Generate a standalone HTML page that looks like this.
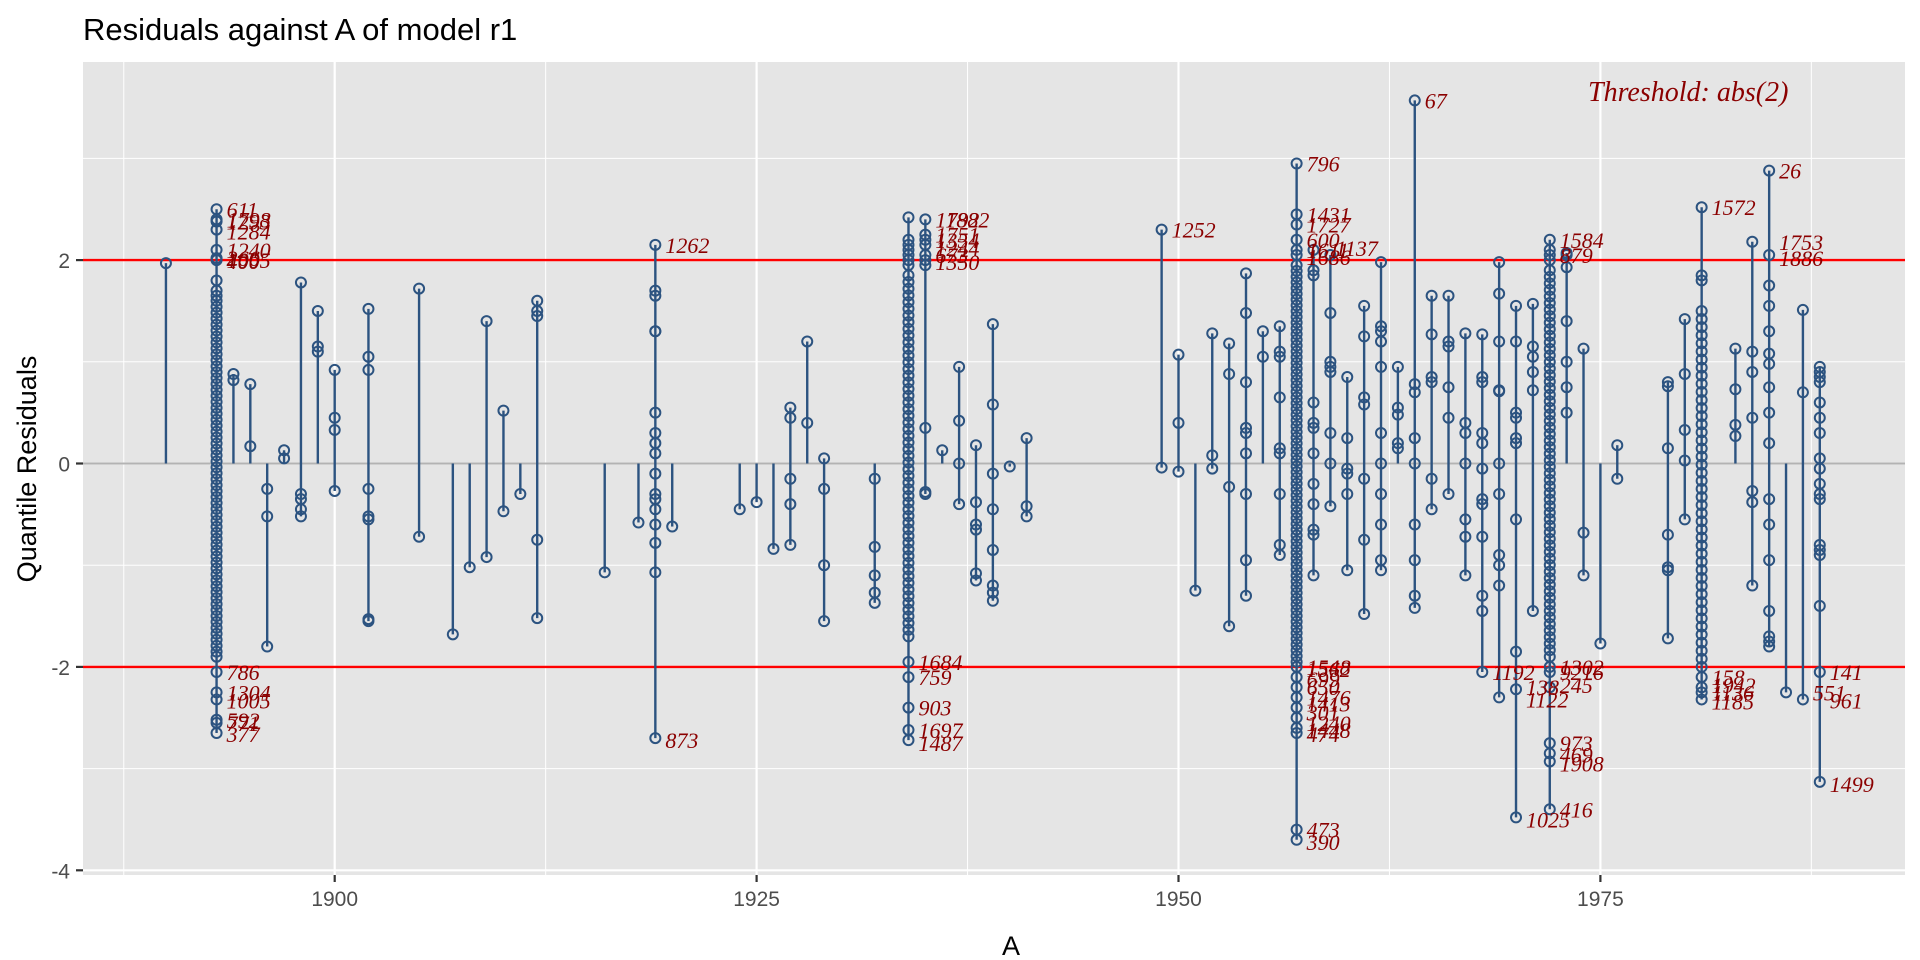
<!DOCTYPE html>
<html><head><meta charset="utf-8">
<style>
html,body{margin:0;padding:0;background:#fff;}
svg{display:block;}
text{font-family:"Liberation Sans",sans-serif;}
.lab{font-family:"Liberation Serif",serif;font-style:italic;fill:#8b0000;font-size:22px;}
</style></head>
<body>
<svg id="s" width="1920" height="960" xmlns="http://www.w3.org/2000/svg">
<rect x="0" y="0" width="1920" height="960" fill="#fff"/>
<rect x="83" y="62" width="1822" height="813" fill="#e5e5e5"/>
<g id="grid"></g>
<line x1="83" x2="1905" y1="463.5" y2="463.5" stroke="#b3b3b3" stroke-width="2"/>
<line x1="83" x2="1905" y1="260.1" y2="260.1" stroke="#ff0000" stroke-width="2.4"/>
<line x1="83" x2="1905" y1="666.9" y2="666.9" stroke="#ff0000" stroke-width="2.4"/>
<g id="pts"></g>
<g id="labs"></g>
<text x="1588" y="101" class="lab" style="font-size:28px">Threshold: abs(2)</text>
<text x="83" y="40" font-size="31" fill="#000">Residuals against A of model r1</text>
<g id="ax" font-size="21" fill="#4d4d4d"></g>
<text x="1011" y="955" text-anchor="middle" font-size="27" fill="#000">A</text>
<text transform="translate(36,469) rotate(-90)" text-anchor="middle" font-size="27" fill="#000">Quantile Residuals</text>
</svg>
<script>
const NS="http://www.w3.org/2000/svg";
const R=r=>Math.round(1893+(r-1892.4)*0.9705);
const X=y=>334.7+(y-1900)*16.876, Y=v=>463.5-v*101.7;
function el(p,t,a,txt){const e=document.createElementNS(NS,t);for(const k in a)e.setAttribute(k,a[k]);if(txt!==undefined)e.textContent=txt;document.getElementById(p).appendChild(e);return e;}
for(const yr of [1887.5,1912.5,1937.5,1962.5,1987.5]) el("grid","line",{x1:X(yr),x2:X(yr),y1:62,y2:875,stroke:"#fff","stroke-width":1});
for(const v of [-3,-1,1,3]) el("grid","line",{x1:83,x2:1905,y1:Y(v),y2:Y(v),stroke:"#fff","stroke-width":1});
for(const yr of [1900,1925,1950,1975]){el("grid","line",{x1:X(yr),x2:X(yr),y1:62,y2:875,stroke:"#fff","stroke-width":2.2});
 el("ax","line",{x1:X(yr),x2:X(yr),y1:875,y2:882,stroke:"#333","stroke-width":2.2});
 el("ax","text",{x:X(yr),y:906,"text-anchor":"middle"},yr);}
for(const v of [-4,-2,0,2]){el("grid","line",{x1:83,x2:1905,y1:Y(v),y2:Y(v),stroke:"#fff","stroke-width":2.2});
 el("ax","line",{x1:76,x2:83,y1:Y(v),y2:Y(v),stroke:"#333","stroke-width":2.2});
 el("ax","text",{x:70,y:Y(v)+8,"text-anchor":"end"},v);}
function dense(a,b,n){const r=[];for(let i=0;i<n;i++)r.push(a+(b-a)*i/(n-1));return r;}
const C=[
[1889.3,[1.97]],
[1892.4,[2.5,2.4,2.38,2.3,2.1,2.02,2.0,1.8,1.7,1.65,-1.9,-2.05,-2.25,-2.32,-2.52,-2.55,-2.65].concat(dense(-1.85,1.6,60))],
[1893.6,[0.88,0.82]],[1894.6,[0.78,0.17]],[1895.6,[-0.25,-0.52,-1.8]],[1896.6,[0.13,0.05]],
[1897.6,[1.78,-0.3,-0.35,-0.45,-0.52]],[1898.7,[1.5,1.15,1.1]],[1899.7,[0.92,0.45,0.33,-0.27]],
[1901.7,[1.52,1.05,0.92,-0.25,-0.52,-0.55,-1.53,-1.55]],[1904.9,[1.72,-0.72]],[1906.9,[-1.68]],
[1907.9,[-1.02]],[1909,[1.4,-0.92]],[1909.9,[0.52,-0.47]],[1911,[-0.3]],[1912,[1.6,1.5,1.45,-0.75,-1.52]],
[1916.1,[-1.07]],[1918.1,[-0.58]],
[1919.2,[2.15,1.7,1.65,1.3,1.3,0.5,0.3,0.2,0.1,-0.1,-0.3,-0.35,-0.45,-0.6,-0.78,-1.07,-2.7]],
[1920.2,[-0.62]],[1924.3,[-0.45]],[1925.4,[-0.38]],[1926.4,[-0.84]],[1927.5,[0.55,0.45,-0.15,-0.4,-0.8]],
[1928.4,[1.2,0.4]],[1929.5,[0.05,-0.25,-1.0,-1.55]],[1932.5,[-0.15,-0.82,-1.1,-1.27,-1.37]],
[1934.6,[2.42,2.2,2.15,2.1,2.05,2.0,1.95,-1.95,-2.1,-2.4,-2.62,-2.72].concat(dense(-1.7,1.85,55))],
[1935.7,[2.4,2.25,2.2,2.15,2.05,2.0,1.95,0.35,-0.28,-0.3]],
[1936.7,[0.13]],[1937.8,[0.95,0.42,0.0,-0.4]],[1938.7,[0.18,-0.38,-0.6,-0.65,-1.08,-1.15]],
[1939.8,[1.37,0.58,-0.1,-0.45,-0.85,-1.2,-1.27,-1.35]],[1940.8,[-0.03]],[1941.9,[0.25,-0.42,-0.52]],
[1950.1,[2.3,-0.04]],[1951.1,[1.07,0.4,-0.08]],[1952.2,[-1.25]],[1953.2,[1.28,0.08,-0.05]],
[1954.2,[1.18,0.88,-0.23,-1.6]],[1955.2,[1.87,1.48,0.8,0.35,0.3,0.1,-0.3,-0.95,-1.3]],[1956.3,[1.3,1.05]],
[1957.3,[1.35,1.1,1.05,0.65,0.15,0.1,-0.3,-0.8,-0.9]],
[1958.3,[2.95,2.45,2.35,2.2,2.1,2.05,-2.0,-2.1,-2.2,-2.3,-2.4,-2.5,-2.6,-2.65,-3.6,-3.7].concat(dense(-1.95,1.95,70))],
[1959.3,[2.1,1.9,1.85,0.6,0.4,0.35,0.1,-0.2,-0.4,-0.65,-0.7,-1.1]],
[1960.4,[2.05,1.48,1.0,0.95,0.9,0.3,0.0,-0.42]],[1961.4,[0.85,0.25,-0.05,-0.1,-0.3,-1.05]],
[1962.4,[1.55,1.25,0.65,0.58,-0.15,-0.75,-1.48]],
[1963.4,[1.98,1.35,1.3,1.2,0.95,0.3,0.0,-0.3,-0.6,-0.95,-1.05]],[1964.5,[0.95,0.55,0.48,0.2,0.15]],
[1965.5,[3.57,0.78,0.7,0.25,0.0,-0.6,-0.95,-1.3,-1.42]],[1966.6,[1.65,1.27,0.85,0.8,-0.15,-0.45]],
[1967.6,[1.65,1.2,1.15,0.75,0.45,-0.3]],[1968.7,[1.28,0.4,0.3,0.0,-0.55,-0.72,-1.1]],
[1969.7,[1.27,0.85,0.8,0.3,0.2,-0.05,-0.35,-0.4,-0.72,-1.3,-1.45,-2.05]],
[1970.7,[1.98,1.67,1.2,0.72,0.71,0.0,-0.3,-0.9,-1.0,-1.2,-2.3]],
[1971.7,[1.55,1.2,0.5,0.45,0.25,0.2,-0.55,-1.85,-2.22,-3.48]],[1972.8,[1.57,1.15,1.05,0.9,0.72,-1.45]],
[1973.8,[2.2,2.1,2.05,2.0,-2.0,-2.05,-2.2,-2.75,-2.85,-2.93,-3.4].concat(dense(-1.9,1.9,60))],
[1974.8,[2.07,2.05,1.93,1.4,1.0,0.75,0.5]],[1975.8,[1.13,-0.68,-1.1]],[1976.8,[-1.77]],[1977.8,[0.18,-0.15]],
[1980.9,[0.8,0.76,0.15,-0.7,-1.02,-1.05,-1.72]],[1981.9,[1.42,0.88,0.33,0.03,-0.55]],
[1983,[2.52,1.85,1.8,-2.1,-2.2,-2.25,-2.32].concat(dense(-2.0,1.5,45))],
[1985,[1.13,0.73,0.38,0.27]],[1986,[2.18,1.1,0.9,0.45,-0.27,-0.38,-1.2]],
[1987.1,[2.88,2.05,1.75,1.55,1.3,1.08,0.98,0.75,0.5,0.2,-0.35,-0.6,-0.95,-1.45,-1.7,-1.75,-1.8]],
[1988.1,[-2.25]],[1989.1,[1.51,0.7,-2.32]],
[1990.1,[0.95,0.9,0.85,0.8,0.6,0.45,0.3,0.05,-0.05,-0.2,-0.3,-0.35,-0.8,-0.85,-0.9,-1.4,-2.05,-3.13]]
];
const st="#2c5380";
for(const [yr,vs] of C){const x=X(R(yr));const mx=Math.max(0,...vs),mn=Math.min(0,...vs);
 el("pts","line",{x1:x,x2:x,y1:Y(mx),y2:Y(mn),stroke:st,"stroke-width":2.4});
 for(const v of vs) el("pts","circle",{cx:x,cy:Y(v),r:5,fill:"none",stroke:st,"stroke-width":2});}
const L=[
[1892.4,2.5,"611"],[1892.4,2.4,"1798"],[1892.4,2.38,"1293"],[1892.4,2.28,"1284"],[1892.4,2.1,"1240"],[1892.4,2.02,"266"],[1892.4,2.0,"1005"],[1892.4,1.99,"400"],
[1892.4,-2.05,"786"],[1892.4,-2.25,"1304"],[1892.4,-2.33,"1005"],[1892.4,-2.52,"592"],[1892.4,-2.55,"771"],[1892.4,-2.66,"377"],
[1919.2,2.15,"1262"],[1919.2,-2.72,"873"],
[1934.6,-1.95,"1684"],[1934.6,-2.1,"759"],[1934.6,-2.4,"903"],[1934.6,-2.62,"1697"],[1934.6,-2.75,"1487"],
[1935.7,2.4,"1792",0],[1935.7,2.4,"1882",10],[1935.7,2.25,"1751"],[1935.7,2.2,"1354"],[1935.7,2.12,"1244"],[1935.7,2.05,"673"],[1935.7,1.98,"1350"],
[1950.1,2.3,"1252"],
[1958.3,2.95,"796"],[1958.3,2.45,"1431"],[1958.3,2.35,"1727"],[1958.3,2.2,"600"],[1958.3,2.1,"1611"],[1959.3,2.12,"1137",12],[1958.3,2.03,"1686"],
[1958.3,-2.0,"1548"],[1958.3,-2.02,"1562"],[1958.3,-2.12,"699"],[1958.3,-2.2,"650"],[1958.3,-2.3,"1476"],[1958.3,-2.36,"1413"],[1958.3,-2.45,"301"],[1958.3,-2.55,"1240"],[1958.3,-2.62,"1448"],[1958.3,-2.66,"474"],
[1958.3,-3.6,"473"],[1958.3,-3.72,"390"],
[1965.5,3.57,"67"],
[1969.7,-2.05,"1192"],[1971.7,-2.2,"138"],[1971.7,-2.32,"1122"],[1971.7,-3.5,"1025"],
[1973.8,2.2,"1584"],[1973.8,2.05,"879"],[1973.8,-2.0,"1302"],[1973.8,-2.05,"9216"],[1973.8,-2.18,"245"],[1973.8,-2.75,"973"],[1973.8,-2.86,"469"],[1973.8,-2.95,"1908"],[1973.8,-3.4,"416"],
[1983,2.52,"1572"],[1983,-2.1,"158"],[1983,-2.18,"1942"],[1983,-2.25,"1136"],[1983,-2.34,"1185"],
[1987.1,2.88,"26"],[1987.1,2.18,"1753"],[1987.1,2.02,"1886"],
[1989.1,-2.25,"551"],[1990.1,-2.33,"961"],[1990.1,-2.05,"141"],[1990.1,-3.15,"1499"]
];
for(const [yr,v,t,o] of L) el("labs","text",{x:X(R(yr))+10+(o||0),y:Y(v)+8,class:"lab"},t);
</script>
</body></html>
